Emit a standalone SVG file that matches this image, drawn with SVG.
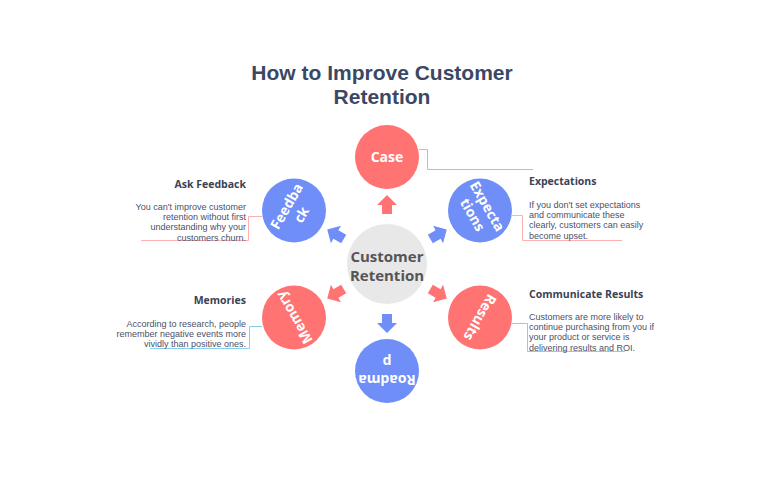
<svg xmlns="http://www.w3.org/2000/svg" width="780" height="488" viewBox="0 0 780 488">
<style>
.red{fill:#FF7373}
.blue{fill:#6F8EF8}
.nt{font-family:"Open Sans","Liberation Sans",sans-serif;font-weight:bold;font-size:14px;fill:#fff;text-anchor:middle}
.ttl{font-family:"Liberation Sans",Arial,sans-serif;font-weight:bold;font-size:21px;fill:#3B4863;text-anchor:middle}
.h{font-family:"Open Sans","Liberation Sans",sans-serif;font-weight:bold;font-size:10.5px;fill:#3B4256}
.b{font-family:"Liberation Sans",Arial,sans-serif;font-size:9px;fill:#4A5168}
.r{text-anchor:end}
.pk{fill:none;stroke:#FFB0B0;stroke-width:1}
.cy{fill:none;stroke:#84D0EE;stroke-width:1}
</style>
<defs>
<polygon id="arr" points="0,-69 10,-59 5,-59 5,-50 -5,-50 -5,-59 -10,-59"/>
</defs>
<rect width="780" height="488" fill="#fff"/>
<g id="title">
<text class="ttl" x="382" y="79.5">How to Improve Customer</text>
<text class="ttl" x="382" y="104">Retention</text>
</g>
<g id="connectors">
<polyline class="cy" points="419,149.5 427.5,149.5 427.5,169.5 533,169.5"/>
<polyline class="pk" points="262,216.5 248.5,216.5 248.5,240.5 141,240.5"/>
<polyline class="pk" points="512,215.5 522.5,215.5 522.5,240.5 622,240.5"/>
<polyline class="cy" points="262,326.5 249.5,326.5 249.5,348.5 150,348.5"/>
<polyline class="cy" points="512,323.5 527.5,323.5 527.5,351.5 625,351.5"/>
<g transform="translate(387,264)">
<use href="#arr" class="red"/>
<use href="#arr" class="blue" transform="rotate(60)"/>
<use href="#arr" class="red" transform="rotate(120)"/>
<use href="#arr" class="blue" transform="rotate(180)"/>
<use href="#arr" class="red" transform="rotate(240)"/>
<use href="#arr" class="blue" transform="rotate(300)"/>
</g>
</g>
<g id="center">
<circle cx="387" cy="264" r="40" fill="#E8E8E8"/>
<text x="387" y="262" font-family="Open Sans,Liberation Sans,sans-serif" font-weight="bold" font-size="15" fill="#555" text-anchor="middle">Customer</text>
<text x="387" y="281" font-family="Open Sans,Liberation Sans,sans-serif" font-weight="bold" font-size="15" fill="#555" text-anchor="middle">Retention</text>
</g>
<g id="case" transform="translate(387,157)">
<circle r="32" class="red"/>
<text class="nt" y="5">Case</text>
</g>
<g id="expectations" transform="translate(480,210.5)">
<circle r="32" class="blue"/>
<g transform="rotate(60)"><text class="nt" y="-3.5">Expecta</text><text class="nt" y="13.5">tions</text></g>
</g>
<g id="results" transform="translate(480,317.5)">
<circle r="32" class="red"/>
<g transform="rotate(120)"><text class="nt" y="5">Results</text></g>
</g>
<g id="roadmap" transform="translate(387,371)">
<circle r="32" class="blue"/>
<g transform="rotate(180)"><text class="nt" y="-4">Roadma</text><text class="nt" y="14">p</text></g>
</g>
<g id="memory" transform="translate(294,317.5)">
<circle r="32" class="red"/>
<g transform="rotate(240)"><text class="nt" y="5">Memory</text></g>
</g>
<g id="feedback" transform="translate(294,210.5)">
<circle r="32" class="blue"/>
<g transform="rotate(300)"><text class="nt" y="-3.5">Feedba</text><text class="nt" y="13.5">ck</text></g>
</g>
<g id="label-feedback">
<text class="h r" x="246" y="188">Ask Feedback</text>
<text class="b r" x="246" y="209.5">You can't improve customer</text>
<text class="b r" x="246" y="219.9">retention without first</text>
<text class="b r" x="246" y="230.3">understanding why your</text>
<text class="b r" x="246" y="240.7">customers churn.</text>
</g>
<g id="label-expectations">
<text class="h" x="529" y="185">Expectations</text>
<text class="b" x="529" y="207.5">If you don't set expectations</text>
<text class="b" x="529" y="217.9">and communicate these</text>
<text class="b" x="529" y="228.3">clearly, customers can easily</text>
<text class="b" x="529" y="238.7">become upset.</text>
</g>
<g id="label-memories">
<text class="h r" x="246" y="304">Memories</text>
<text class="b r" x="246" y="326.5">According to research, people</text>
<text class="b r" x="246" y="336.9">remember negative events more</text>
<text class="b r" x="246" y="347.3">vividly than positive ones.</text>
</g>
<g id="label-results">
<text class="h" x="529" y="297.5">Communicate Results</text>
<text class="b" x="529" y="319.5">Customers are more likely to</text>
<text class="b" x="529" y="329.9">continue purchasing from you if</text>
<text class="b" x="529" y="340.3">your product or service is</text>
<text class="b" x="529" y="350.7">delivering results and ROI.</text>
</g>
</svg>
